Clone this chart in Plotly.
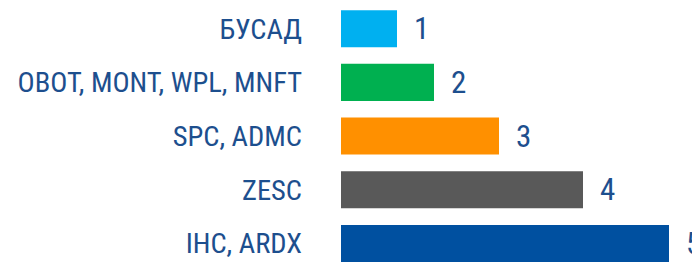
import plotly.graph_objects as go

categories = ["БУСАД", "OBOT, MONT, WPL, MNFT", "SPC, ADMC", "ZESC", "IHC, ARDX"]
values = [5.6, 9.3, 15.8, 24.2, 32.8]
value_labels = ["1", "2", "3", "4", "5"]
colors = ["#00B0F0", "#00B050", "#FF9000", "#595959", "#0050A0"]

FONT = "Roboto Condensed, Roboto, sans-serif"
TXT = "#1D4F8E"

fig = go.Figure(go.Bar(
    y=categories, x=values, orientation="h",
    marker=dict(color=colors, line=dict(width=0)),
    width=0.69,
))

for c, v, t in zip(categories, values, value_labels):
    fig.add_annotation(x=v, y=c, text=t, showarrow=False, xanchor="left",
                       xshift=15, font=dict(family=FONT, size=31, color=TXT))

fig.update_layout(
    width=720, height=255,
    margin=dict(l=333, r=28, t=0, b=0),
    paper_bgcolor="white", plot_bgcolor="white",
    showlegend=False,
    xaxis=dict(range=[0, 35.9], visible=False, fixedrange=True),
    yaxis=dict(type="category", range=[4.363, -0.385], showgrid=False,
               zeroline=False, showline=False, ticks="", automargin=False,
               ticklabelstandoff=38,
               tickfont=dict(family=FONT, size=28.5, color=TXT)),
)

fig.write_html("out.html", post_script="document.body.style.overflow='hidden';")
